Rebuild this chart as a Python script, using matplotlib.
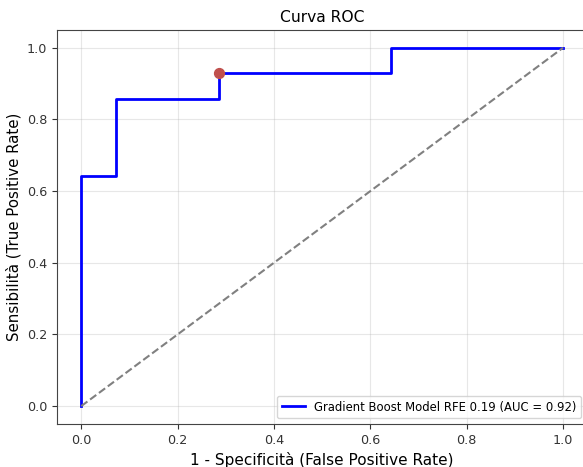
import numpy as np
import matplotlib
matplotlib.use('Agg')
import matplotlib.pyplot as plt

# ROC curve points
fpr = [0.0, 0.0, 0.0714, 0.0714, 0.2857, 0.2857, 0.6429, 0.6429, 1.0]
tpr = [0.0, 0.6429, 0.6429, 0.8571, 0.8571, 0.9286, 0.9286, 1.0, 1.0]
best_fpr = 0.2857
best_tpr = 0.9286
model_name = 'Gradient Boost Model RFE 0.19'
auc_value = 0.92

fig = plt.figure(figsize=(5.83, 4.67), dpi=100)
ax = fig.add_axes([0.098, 0.092, 0.909, 0.844])

ax.step(fpr, tpr, where='post', color='blue', lw=2,
        label=f'{model_name} (AUC = {auc_value:.2f})')
ax.plot([0, 1], [0, 1], color='gray', linestyle='--')
ax.scatter([best_fpr], [best_tpr], color='#c0504d', s=50, zorder=5)

ax.set_xlim(-0.05, 1.05)
ax.set_ylim(-0.05, 1.05)
ax.set_xlabel('1 - Specificità (False Positive Rate)', fontsize=11)
ax.set_ylabel('Sensibilità (True Positive Rate)', fontsize=10.8)
ax.set_title('Curva ROC', fontsize=11.2)
ax.tick_params(labelsize=9.2, colors='#333333')
for s in ax.spines.values():
    s.set_color('#444444')
ax.legend(loc='lower right', fontsize=8.4)
ax.grid(alpha=0.3)

plt.savefig('out.png')
